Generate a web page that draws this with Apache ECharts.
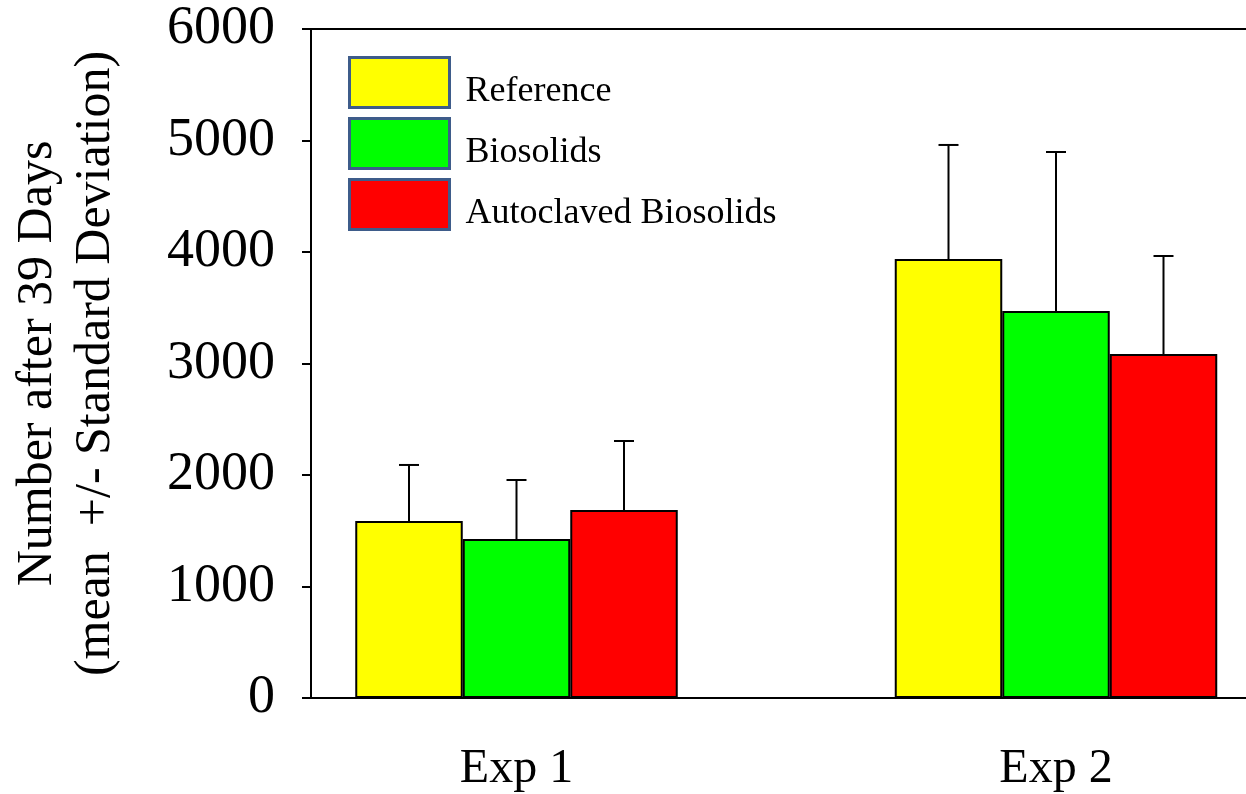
<!DOCTYPE html>
<html>
<head>
<meta charset="utf-8">
<script src="https://cdn.jsdelivr.net/npm/echarts@6/dist/echarts.min.js"></script>
<style>
  html, body { margin: 0; padding: 0; background: #fff; }
  #chart { width: 1246px; height: 794px; }
</style>
</head>
<body>
<div id="chart"></div>
<script>
// data
const categories = ['Exp 1', 'Exp 2']
const seriesNames = ['Reference', 'Biosolids', 'Autoclaved Biosolids']
const seriesColors = ['#ffff00', '#00ff00', '#ff0000']
const referenceMean = [1587, 3937]
const referenceSd = [503, 1023]
const biosolidsMean = [1426, 3471]
const biosolidsSd = [529, 1426]
const autoclavedMean = [1686, 3085]
const autoclavedSd = [619, 879]
const yTicks = [0, 1000, 2000, 3000, 4000, 5000, 6000]

const means = [referenceMean, biosolidsMean, autoclavedMean]
const sds = [referenceSd, biosolidsSd, autoclavedSd]

const font = 'Liberation Serif, Times New Roman, serif'
const barW = 107.5

let chart = echarts.init(document.getElementById('chart'), null, { renderer: 'canvas' })

// error bars drawn on top of each bar, shifted by the bar's slot
function errorSeries(idx) {
  return {
    type: 'custom',
    xAxisIndex: 1,
    yAxisIndex: 1,
    silent: true,
    z: 5,
    data: means[idx].map((m, j) => [j, m, m + sds[idx][j]]),
    renderItem: function (params, api) {
      let base = api.coord([api.value(0), api.value(1)])
      let top = api.coord([api.value(0), api.value(2)])
      let x = base[0] + (idx - 1) * barW
      let style = { stroke: '#000', lineWidth: 2 }
      return {
        type: 'group',
        children: [
          { type: 'line', shape: { x1: x, y1: base[1], x2: x, y2: top[1] }, style: style },
          { type: 'line', shape: { x1: x - 10, y1: top[1], x2: x + 10, y2: top[1] }, style: style }
        ]
      }
    }
  }
}

let barSeries = seriesNames.map((name, i) => ({
  name: name,
  type: 'bar',
  xAxisIndex: 1,
  yAxisIndex: 1,
  barWidth: barW,
  barGap: '0%',
  data: means[i],
  itemStyle: { color: seriesColors[i], borderColor: '#000', borderWidth: 2 }
}))

let option = {
  backgroundColor: '#fff',
  animation: false,
  legend: {
    orient: 'vertical',
    left: 343,
    top: 51,
    itemWidth: 100,
    itemHeight: 50,
    itemGap: 7,
    icon: 'rect',
    itemStyle: { borderColor: '#3e5c8a', borderWidth: 3 },
    formatter: name => '{t|' + name + '}',
    textStyle: {
      fontFamily: font, fontSize: 36, color: '#000',
      rich: { t: { fontFamily: font, fontSize: 36, color: '#000', padding: [19, 0, 0, 11] } }
    },
    data: seriesNames
  },
  grid: [
    { left: 311, right: 0, top: 29, bottom: 96, containLabel: false, outerBoundsMode: 'none' },
    { left: 246.75, width: 1079, top: 29, bottom: 96, containLabel: false, outerBoundsMode: 'none' }
  ],
  xAxis: [
    {
      gridIndex: 0,
      type: 'value',
      min: 0,
      max: 1,
      position: 'bottom',
      axisLine: { show: true, onZero: false, lineStyle: { color: '#000', width: 2 } },
      axisTick: { show: false },
      axisLabel: { show: false },
      splitLine: { show: false }
    },
    {
      gridIndex: 1,
      type: 'category',
      data: categories,
      axisLine: { show: false },
      axisTick: { show: false },
      axisLabel: { fontFamily: font, fontSize: 48, color: '#000', margin: 47 },
      splitLine: { show: false }
    },
    {
      gridIndex: 0,
      type: 'value',
      min: 0,
      max: 1,
      position: 'top',
      axisLine: { show: true, onZero: false, lineStyle: { color: '#000', width: 2 } },
      axisTick: { show: false },
      axisLabel: { show: false },
      splitLine: { show: false }
    }
  ],
  yAxis: [
    {
      gridIndex: 0,
      type: 'value',
      min: yTicks[0],
      max: yTicks[yTicks.length - 1],
      interval: 1000,
      axisLine: { show: true, lineStyle: { color: '#000', width: 2 } },
      axisTick: { show: true, length: 9, lineStyle: { color: '#000', width: 2 } },
      axisLabel: { fontFamily: font, fontSize: 54, color: '#000', margin: 36, formatter: v => String(v) },
      splitLine: { show: false },
      name: 'Number after 39 Days\n(mean  +/- Standard Deviation)',
      nameLocation: 'middle',
      nameRotate: 90,
      nameGap: 186,
      nameTextStyle: { fontFamily: font, fontSize: 50, color: '#000', lineHeight: 58 }
    },
    {
      gridIndex: 1,
      type: 'value',
      min: 0,
      max: 6000,
      show: false
    }
  ],
  series: barSeries.concat([errorSeries(0), errorSeries(1), errorSeries(2)])
}

chart.setOption(option)
</script>
</body>
</html>
